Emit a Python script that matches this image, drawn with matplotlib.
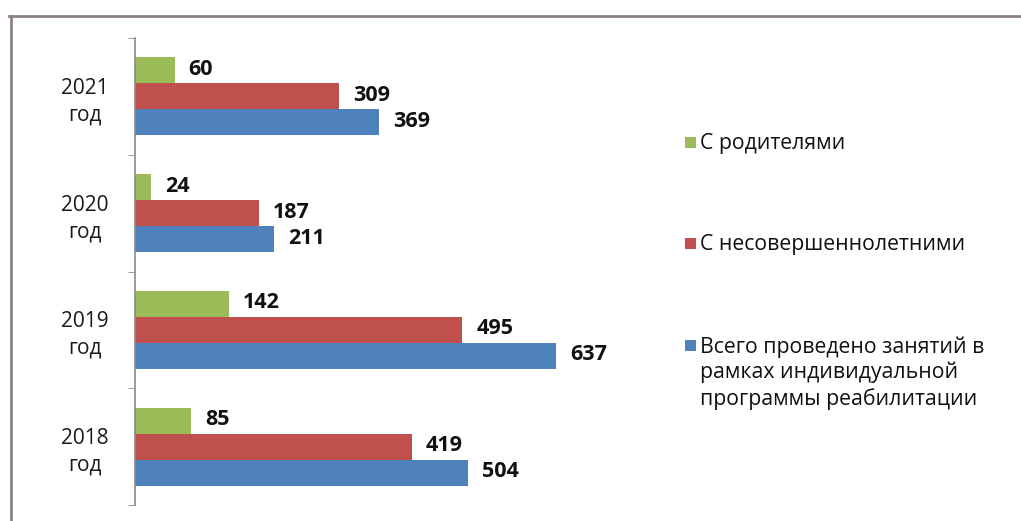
import matplotlib
matplotlib.use("Agg")
import matplotlib.pyplot as plt
from matplotlib.lines import Line2D
from matplotlib.patches import Rectangle

# Data
categories = ["2018\nгод", "2019\nгод", "2020\nгод", "2021\nгод"]
series_names = ["С родителями", "С несовершеннолетними",
                "Всего проведено занятий в\nрамках индивидуальной\nпрограммы реабилитации"]
parents = [85, 142, 24, 60]
minors = [419, 495, 187, 309]
total = [504, 637, 211, 369]
colors = ["#9BBB59", "#C0504D", "#4F81BD"]

W, H = 1021, 521
fig = plt.figure(figsize=(W / 100, H / 100), dpi=100)
fig.patch.set_facecolor("white")
FONT = ["Open Sans", "DejaVu Sans"]

ax_left, ax_right, ax_top, ax_bottom = 135, 640, 38, 505
ax = fig.add_axes([ax_left / W, 1 - ax_bottom / H, (ax_right - ax_left) / W, (ax_bottom - ax_top) / H])

bh = 0.222
ys = list(range(len(categories)))
series = [parents, minors, total]
offsets = [bh, 0, -bh]
for vals, col, off in zip(series, colors, offsets):
    bars = ax.barh([y + off for y in ys], vals, height=bh, color=col, edgecolor="none")
    for b, v in zip(bars, vals):
        ax.annotate(str(v), xy=(b.get_width(), b.get_y() + b.get_height() / 2),
                    xytext=(14, 1), textcoords="offset pixels", ha="left", va="center",
                    fontsize=15.5, fontweight="bold", family=FONT, color="#111111")

ax.set_xlim(0, (ax_right - ax_left) / 0.661)
ax.set_ylim(-0.5, len(categories) - 0.5)
for s in ["top", "right", "bottom"]:
    ax.spines[s].set_visible(False)
ax.spines["left"].set_color("#8a8a8a")
ax.spines["left"].set_linewidth(1.2)
ax.set_xticks([])
ax.set_yticks(ys)
ax.set_yticklabels(categories, family=FONT, fontsize=15, color="#1a1a1a",
                   ha="center", multialignment="center", linespacing=1.35)
ax.tick_params(axis="y", which="major", length=0, pad=36)
ax.set_yticks([y - 0.5 for y in ys] + [len(categories) - 0.5], minor=True)
ax.tick_params(axis="y", which="minor", length=5, color="#8a8a8a", direction="out")
ax.patch.set_alpha(0)

# Legend (manual, Excel-like layout)
leg_y = [143, 244, 346]
for name, col, y in zip(series_names, colors, leg_y):
    fig.add_artist(Rectangle((685 / W, 1 - (y + 5) / H), 11 / W, 11 / H,
                             transform=fig.transFigure, color=col, lw=0))
    fig.text(700 / W, 1 - (y - 10) / H, name, family=FONT, fontsize=15.3,
             color="#111111", ha="left", va="top", linespacing=1.27)

# Frame lines
fig.add_artist(Line2D([9 / W, 1], [1 - 16 / H, 1 - 16 / H], transform=fig.transFigure,
                      color="#8c8282", lw=2))
fig.add_artist(Line2D([11 / W, 11 / W], [0, 1 - 16 / H], transform=fig.transFigure,
                      color="#8c8282", lw=2))

fig.savefig("out.png", dpi=100, facecolor="white")
